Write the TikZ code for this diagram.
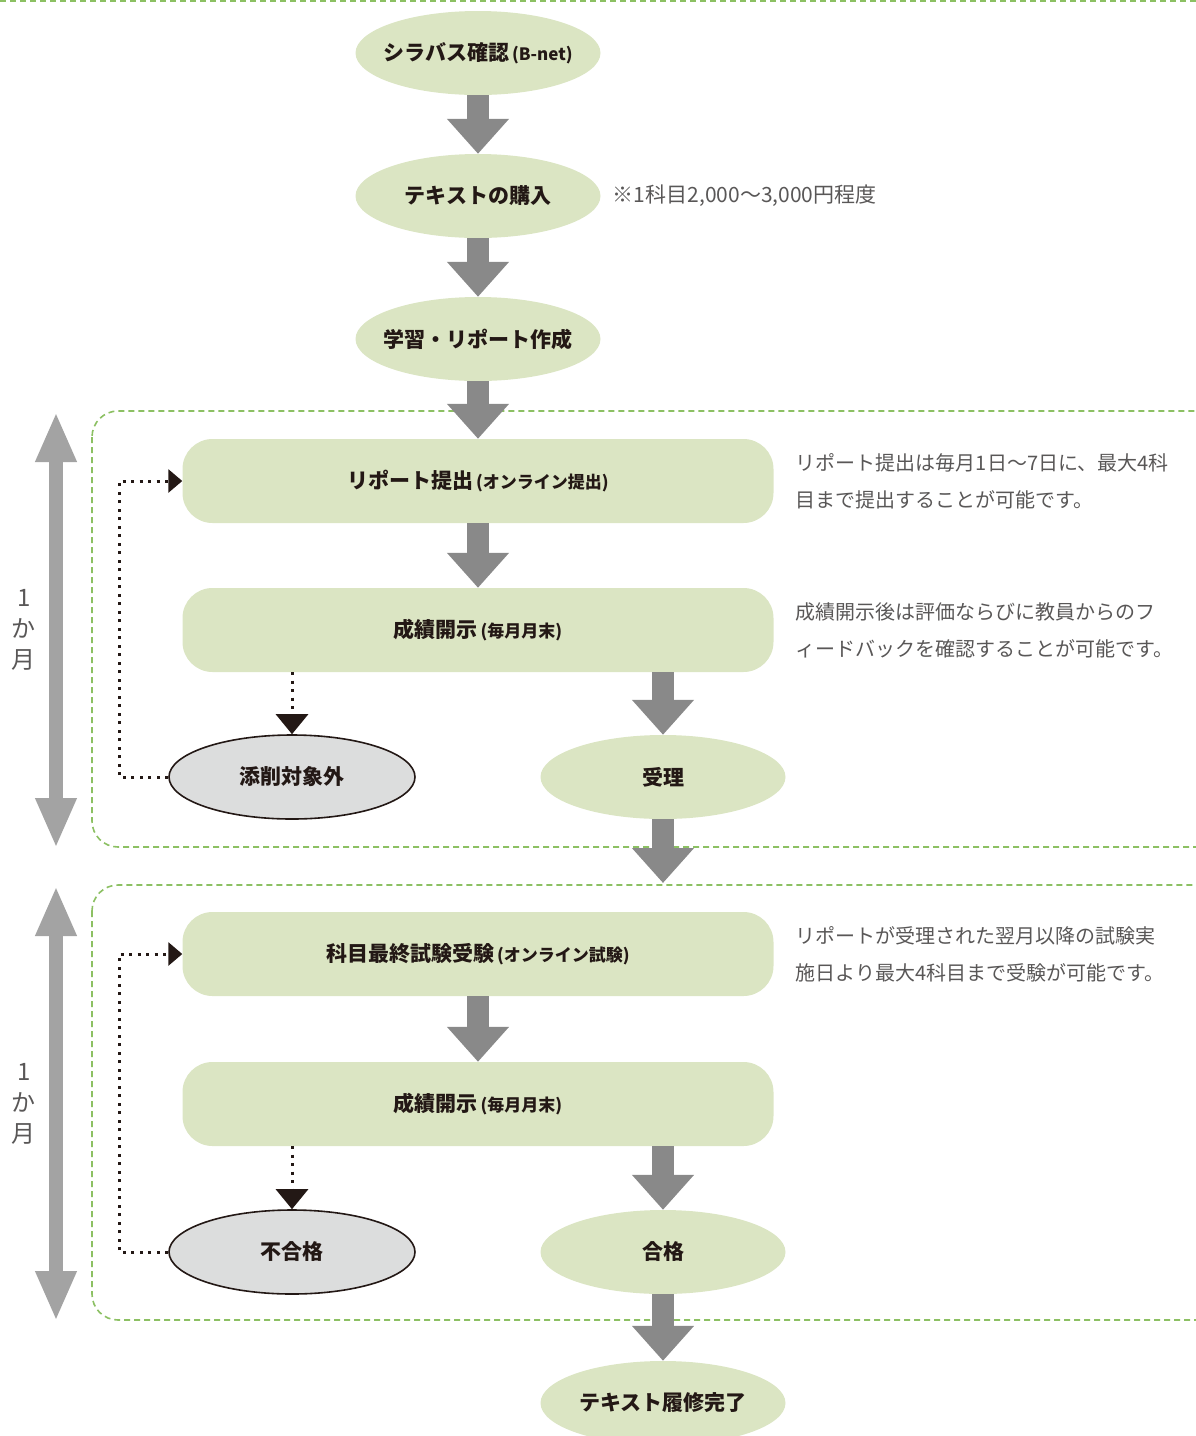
\documentclass[tikz,border=0pt]{standalone}
\usepackage{fontspec}
\setmainfont{Noto Sans CJK JP}
\usetikzlibrary{arrows.meta,positioning,shapes.geometric}

\definecolor{leaf}{HTML}{DBE5C3}
\definecolor{zonegreen}{HTML}{8CC063}
\definecolor{flowgray}{HTML}{898989}
\definecolor{spangray}{HTML}{A3A3A3}
\definecolor{ink}{HTML}{231815}
\definecolor{notegray}{HTML}{595757}
\definecolor{missgray}{HTML}{DCDDDD}

\newcommand\smallpart[1]{{\fontsize{17}{17}\selectfont\,#1}}

\tikzset{
    oval/.style={ellipse, fill=leaf, minimum width=245pt, minimum height=84pt, inner sep=0pt, inner xsep=-16pt,
        text=ink, font=\bfseries\fontsize{21}{24}\selectfont},
    missoval/.style={oval, fill=missgray, draw=ink, line width=1.6pt, minimum width=246pt},
    pill/.style={rectangle, rounded corners=30pt, fill=leaf, minimum width=591pt, minimum height=84pt,
        inner sep=0pt, text=ink, font=\bfseries\fontsize{21}{24}\selectfont},
    notetext/.style={align=left, text=notegray, inner sep=0pt, font=\fontsize{20}{37}\selectfont},
    monthtext/.style={align=center, text=notegray, inner sep=0pt, font=\fontsize{24}{31}\selectfont},
    zone/.style={draw=zonegreen, line width=1.6pt, dash pattern=on 6pt off 4pt},
    bigarrow/.style={draw=flowgray, line width=22pt, -{Triangle[width=60pt,length=35pt]}},
    spanarrow/.style={draw=spangray, line width=14pt, {Triangle[width=38pt,length=50pt]}-{Triangle[width=38pt,length=50pt]}},
    dotdown/.style={draw=ink, line width=3pt, dash pattern=on 3pt off 5.5pt, -{Triangle[width=32pt,length=20pt]}},
    dotback/.style={draw=ink, line width=3pt, dash pattern=on 3pt off 5.5pt, -{Triangle[width=23pt,length=14pt]}}
}

\begin{document}
\begin{tikzpicture}[x=1pt, y=-1pt, node distance=143pt]
    \clip (0,0) rectangle (1196,1436);

    % frames
    \draw[zone] (0,1) -- (1196,1);
    \draw[zone, rounded corners=26pt] (92,411) rectangle (1222,847);
    \draw[zone, rounded corners=26pt] (92,885) rectangle (1222,1320);

    % preparation
    \node[oval] (S) at (478,53) {シラバス確認\smallpart{(B-net)}};
    \node[oval, below of=S] (T) {テキストの購入};
    \node[oval, below of=T] (L) {学習・リポート作成};
    \node[notetext, right=12pt of T, font=\fontsize{21}{22}\selectfont] (Tn) {※1科目2,000〜3,000円程度};

    % report month
    \node[pill, below of=L, node distance=142pt] (R) {リポート提出\smallpart{(オンライン提出)}};
    \node[pill, below of=R, node distance=149pt] (G1) {成績開示\smallpart{(毎月月末)}};
    \node[missoval] (X) at (292,777) {添削対象外};
    \node[oval] (A) at (663,777) {受理};
    \node[notetext, right=22pt of R] (Rn) {リポート提出は毎月1日〜7日に、最大4科\\目まで提出することが可能です。};
    \node[notetext, right=22pt of G1] (G1n) {成績開示後は評価ならびに教員からのフ\\ィードバックを確認することが可能です。};
    \coordinate (A2) at (663,883);

    % exam month
    \node[pill] (E) at (478,954) {科目最終試験受験\smallpart{(オンライン試験)}};
    \node[pill, below of=E, node distance=150pt] (G2) {成績開示\smallpart{(毎月月末)}};
    \node[missoval] (F) at (292,1252) {不合格};
    \node[oval] (P) at (663,1252) {合格};
    \node[oval, below of=P, node distance=151pt] (D) {テキスト履修完了};
    \node[notetext, right=22pt of E] (En) {リポートが受理された翌月以降の試験実\\施日より最大4科目まで受験が可能です。};

    % month spans
    \coordinate (M1a) at (56,412);
    \coordinate (M1b) at (56,848);
    \coordinate (M2a) at (56,886);
    \coordinate (M2b) at (56,1321);
    \draw[spanarrow] (M1a) -- (M1b);
    \draw[spanarrow] (M2a) -- (M2b);
    \node[monthtext] (M1) at (24,630) {1\\か\\月};
    \node[monthtext] (M2) at (24,1104) {1\\か\\月};

    % main flow
    \draw[bigarrow] (S) -- (T);
    \draw[bigarrow] (T) -- (L);
    \draw[bigarrow] (L) -- (R);
    \draw[bigarrow] (R) -- (G1);
    \draw[bigarrow] (G1.south -| A) -- (A);
    \draw[bigarrow] (A) -- (A2);
    \draw[bigarrow] (E) -- (G2);
    \draw[bigarrow] (G2.south -| P) -- (P);
    \draw[bigarrow] (P) -- (D);

    % resubmission loops
    \draw[dotdown] (G1.south -| X) -- (X);
    \draw[dotback] (X.west) -- ++(-49,0) |- (R);
    \draw[dotdown] (G2.south -| F) -- (F);
    \draw[dotback] (F.west) -- ++(-49,0) |- (E);
\end{tikzpicture}
\end{document}
